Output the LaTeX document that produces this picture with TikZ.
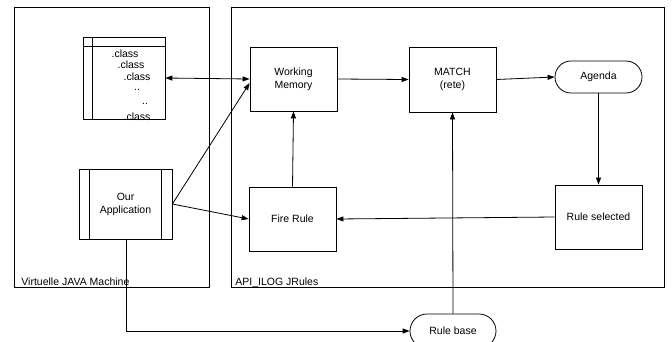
\documentclass[tikz,border=0pt]{standalone}
\usepackage{fontspec}
\setmainfont{Liberation Sans}
\usetikzlibrary{arrows.meta,shapes.misc}

\tikzset{
  box/.style={rectangle, draw, line width=0.8pt, inner sep=0pt, minimum width=87pt, minimum height=64pt, align=center},
  pill/.style={rounded rectangle, draw, line width=0.8pt, inner sep=0pt, minimum width=87pt, minimum height=32pt},
  frame/.style={rectangle, draw, line width=0.8pt, inner sep=0pt},
  cls/.style={inner sep=0pt, anchor=center}
}

\begin{document}
\begin{tikzpicture}[x=1pt, y=-1pt, >={Triangle[length=7pt,width=5pt]},
    font=\fontsize{10.5}{13}\selectfont, line width=0.8pt]
            \useasboundingbox (0,0) rectangle (672,341);

            % Define frames
            \node[frame, minimum width=195pt, minimum height=280pt] (jvm) at (111.5,147) {};
            \node[frame, minimum width=433pt, minimum height=280pt] (api) at (447.5,147) {};
            \node[anchor=base west, inner sep=0pt] (jvmlabel) at (21,285) {Virtuelle JAVA Machine};
            \node[anchor=base west, inner sep=0pt] (apilabel) at (235,285) {API\_ILOG JRules};

            % Define class list
            \node[frame, minimum width=82pt, minimum height=82pt] (classes) at (124,78) {};
            \draw ([xshift=10pt]classes.north west) -- ([xshift=10pt]classes.south west);
            \draw ([yshift=-10pt]classes.north west) -- ([yshift=-10pt]classes.north east);
            \node[cls] (c1) at (125,54) {.class};
            \node[cls] (c2) at (131,65) {.class};
            \node[cls] (c3) at (137,77) {.class};
            \node[cls] (c4) at (137,90) {..};
            \node[cls] (c5) at (145,104) {..};
            \node[cls] (c6) at (137,117) {.class};

            % Define vertices
            \node[box, minimum width=93pt, minimum height=70pt] (app) at (125.5,204) {Our\\Application};
            \draw ([xshift=11pt]app.north west) -- ([xshift=11pt]app.south west);
            \draw ([xshift=-11pt]app.north east) -- ([xshift=-11pt]app.south east);
            \node[box] (wm) at (293.5,79) {Working\\Memory};
            \node[box, minimum height=65pt] (match) at (452.5,79.5) {MATCH\\(rete)};
            \node[pill] (agenda) at (598.5,77) {Agenda};
            \node[box] (sel) at (598.5,217) {Rule selected};
            \node[box] (fire) at (292.5,219) {Fire Rule};
            \node[pill, minimum width=86pt, minimum height=34pt] (rulebase) at (453,331) {Rule base};

            % Draw edges with arrows
            \draw[<->] (classes.east) -- (wm.west);
            \draw[->] (app.east) -- ([yshift=-4pt]wm.west);
            \draw[->] (app.east) -- (fire.west);
            \draw[->] (fire.north) -- (wm.south);
            \draw[->] (wm.east) -- (match.west);
            \draw[->] (match.east) -- (agenda.west);
            \draw[->] (agenda.south) -- (sel.north);
            \draw[->] (sel.west) -- (fire.east);
            \draw[->] (rulebase.north) -- (match.south);
            \draw[->] ([xshift=1pt]app.south) |- (rulebase.west);
        \end{tikzpicture}
\end{document}
